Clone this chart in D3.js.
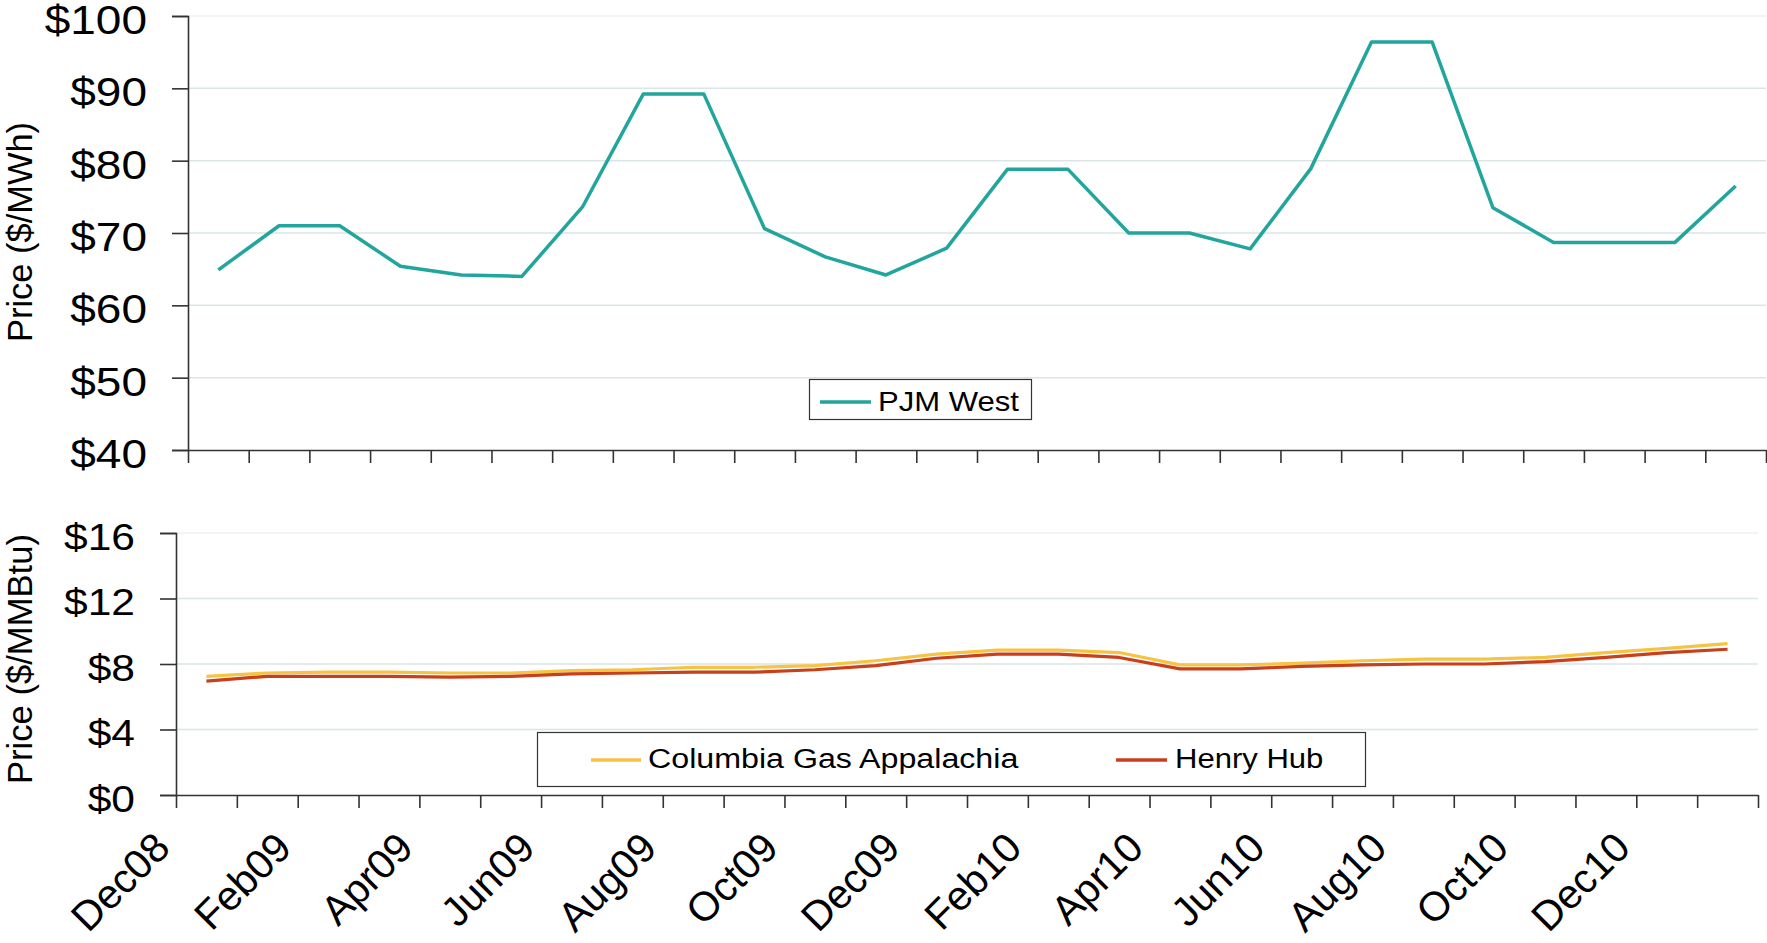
<!DOCTYPE html>
<html><head><meta charset="utf-8">
<script src="https://cdn.jsdelivr.net/npm/d3@7"></script>
<style>
body{margin:0;background:#fff}
text{font-family:"Liberation Sans",Arial,sans-serif;fill:#000}
</style>
</head><body>
<svg id="c" width="1767" height="943"></svg>
<script>
const months = ["Dec08","Jan09","Feb09","Mar09","Apr09","May09","Jun09","Jul09","Aug09","Sep09","Oct09","Nov09","Dec09",
  "Jan10","Feb10","Mar10","Apr10","May10","Jun10","Jul10","Aug10","Sep10","Oct10","Nov10","Dec10","Jan11"];
const pjmWest = [64.9,71.0,71.0,65.4,64.2,64.0,73.6,89.2,89.2,70.6,66.7,64.2,67.9,
  78.8,78.8,70.0,70.0,67.8,78.9,96.4,96.4,73.5,68.7,68.7,68.7,76.5];
const columbiaGas = [7.25,7.45,7.5,7.5,7.45,7.45,7.6,7.65,7.8,7.8,7.9,8.2,8.6,
  8.85,8.85,8.7,7.95,7.95,8.05,8.2,8.3,8.3,8.4,8.7,8.95,9.25];
const henryHub = [6.95,7.25,7.25,7.25,7.2,7.25,7.4,7.45,7.5,7.5,7.65,7.9,8.35,
  8.6,8.6,8.4,7.7,7.7,7.85,7.95,8.0,8.0,8.15,8.4,8.7,8.9];
const topTicks = [40,50,60,70,80,90,100];
const bottomTicks = [0,4,8,12,16];
const xLabels = months.filter((m,i)=>i%2===0);
const seriesNames = ["PJM West","Columbia Gas Appalachia","Henry Hub"];
const colors = {pjm:"#21A59D", col:"#F5C445", hh:"#C83F1C"};

const K = 1.15; // horizontal stretch of text
const svg = d3.select("#c");

function hText(g, x, y, str, size, anchor){
  return g.append("text")
    .attr("transform",`translate(${x},${y}) scale(${K},1)`)
    .attr("text-anchor",anchor||"start")
    .style("font-size",size+"px")
    .text(str);
}

function panel(cfg){
  const g = svg.append("g");
  const x = d3.scaleBand().domain(months).range(cfg.xr);
  const xi = d3.scaleLinear().domain([0,months.length]).range(cfg.xr);
  const y = d3.scaleLinear().domain(cfg.yd).range(cfg.yr);
  // gridlines
  g.append("g").selectAll("line").data(cfg.ticks.slice(1)).join("line")
    .attr("x1",cfg.xr[0]).attr("x2",cfg.xr[1])
    .attr("y1",d=>y(d)).attr("y2",d=>y(d))
    .attr("stroke",(d,i,a)=> i===a.length-1 ? "#eef2f2" : "#dbe5e5").attr("stroke-width",1.5);
  // y axis
  const ya = g.append("g").attr("transform",`translate(${cfg.xr[0]},0)`)
    .call(d3.axisLeft(y).tickValues(cfg.ticks).tickSize(16).tickFormat(""));
  ya.selectAll("path,line").attr("stroke","#333").attr("stroke-width",1.6);
  // y tick labels
  cfg.ticks.forEach(t=>{
    hText(g, cfg.xr[0]-41, y(t)+3.5, "$"+t, cfg.fs, "end").attr("dy","0.36em");
  });
  // x axis
  const xa = g.append("g").attr("transform",`translate(0,${cfg.yr[0]})`)
    .call(d3.axisBottom(xi).tickValues(d3.range(months.length+1)).tickSize(13).tickSizeOuter(0).tickFormat(""));
  xa.selectAll("path,line").attr("stroke","#333").attr("stroke-width",1.6);
  // title
  g.append("text").attr("transform",`translate(32,${cfg.tc}) rotate(-90)`)
    .attr("text-anchor","middle").style("font-size","35px")
    .attr("textLength",cfg.tl).attr("lengthAdjust","spacingAndGlyphs").text(cfg.title);
  return {g,x,y};
}

// top panel
const P1 = panel({xr:[188,1766], yr:[450,16], yd:[40,100], ticks:topTicks, fs:40, title:"Price ($/MWh)", tc:232, tl:220});
const line1 = d3.line().x((d,i)=>P1.x(months[i])+P1.x.bandwidth()/2).y(d=>P1.y(d));
P1.g.append("path").datum(pjmWest).attr("d",line1).attr("fill","none")
  .attr("stroke",colors.pjm).attr("stroke-width",3.5).attr("stroke-linejoin","round");

// bottom panel
const P2 = panel({xr:[176,1758], yr:[795,533], yd:[0,16], ticks:bottomTicks, fs:37, title:"Price ($/MMBtu)", tc:659, tl:250});
const line2 = d3.line().x((d,i)=>P2.x(months[i])+P2.x.bandwidth()/2).y(d=>P2.y(d));
P2.g.append("path").datum(columbiaGas).attr("d",line2).attr("fill","none")
  .attr("stroke",colors.col).attr("stroke-width",3.2).attr("stroke-linejoin","round");
P2.g.append("path").datum(henryHub).attr("d",line2).attr("fill","none")
  .attr("stroke",colors.hh).attr("stroke-width",3.2).attr("stroke-linejoin","round");

// x labels
P2.g.append("g").selectAll("text").data(xLabels).join("text")
  .attr("transform",d=>`translate(${P2.x(d)-4},850) rotate(-45)`)
  .attr("text-anchor","end").style("font-size","41px").text(d=>d);

// legends
const L1 = svg.append("g");
L1.append("rect").attr("x",809.5).attr("y",379.5).attr("width",222).attr("height",40)
  .attr("fill","#fff").attr("stroke","#333").attr("stroke-width",1.2);
L1.append("line").attr("x1",820).attr("x2",871).attr("y1",402).attr("y2",402)
  .attr("stroke",colors.pjm).attr("stroke-width",3.5);
hText(L1, 878, 411, seriesNames[0], 27);

const L2 = svg.append("g");
L2.append("rect").attr("x",537.5).attr("y",732.5).attr("width",828).attr("height",54)
  .attr("fill","#fff").attr("stroke","#333").attr("stroke-width",1.2);
L2.append("line").attr("x1",591).attr("x2",641).attr("y1",760).attr("y2",760)
  .attr("stroke",colors.col).attr("stroke-width",3.5);
hText(L2, 648, 768, seriesNames[1], 28);
L2.append("line").attr("x1",1116).attr("x2",1167).attr("y1",760).attr("y2",760)
  .attr("stroke",colors.hh).attr("stroke-width",3.5);
hText(L2, 1175, 768, seriesNames[2], 27);
</script>
</body></html>
